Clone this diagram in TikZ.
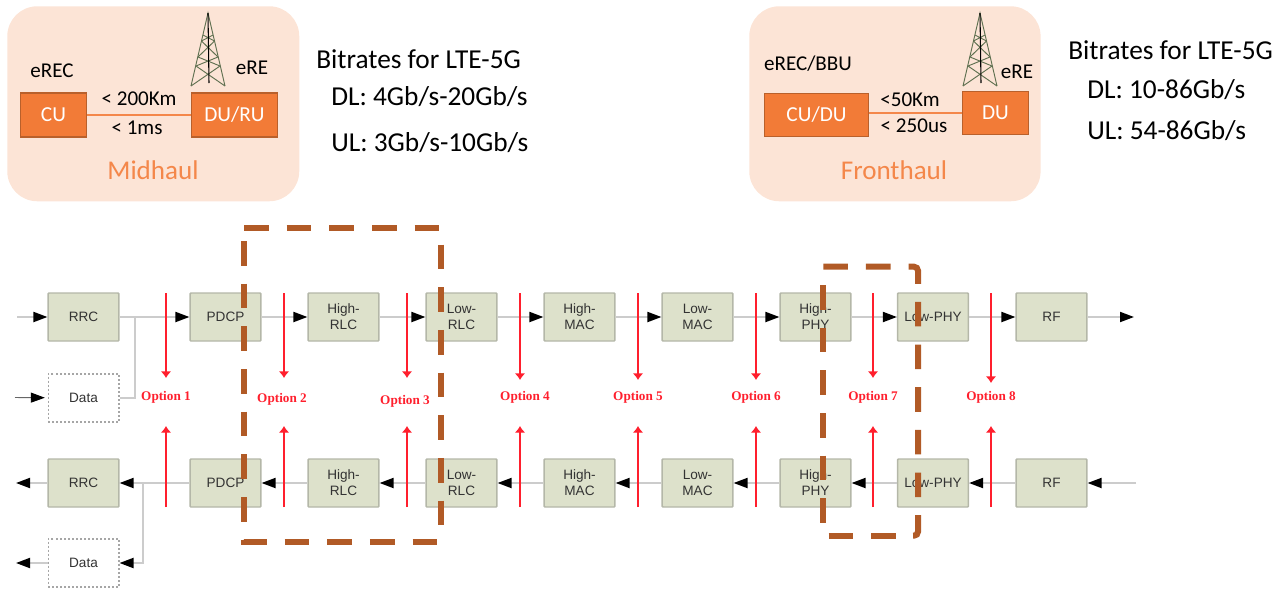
\documentclass[tikz,border=0pt]{standalone}
\usepackage{fontspec}
\setmainfont{Carlito}
\newfontfamily\arialf{Liberation Sans}
\newfontfamily\timesf{Liberation Serif}
\usetikzlibrary{arrows.meta}
\definecolor{panelc}{HTML}{FCE4D6}
\definecolor{orangec}{HTML}{F27B37}
\definecolor{orangee}{HTML}{B9602B}
\definecolor{midc}{HTML}{F4874A}
\definecolor{dashc}{HTML}{B15A26}
\definecolor{boxc}{HTML}{DDE1CB}
\definecolor{boxe}{HTML}{B4B7A8}
\definecolor{flowc}{HTML}{CCCCCC}
\definecolor{towerc}{HTML}{5F7050}
\definecolor{redc}{HTML}{FF1F2D}
\tikzset{
  panel/.style={fill=panelc,draw=none,rounded corners=22.5pt},
  obox/.style={fill=orangec,draw=orangee,line width=0.8pt,text=white,font=\fontsize{16}{18}\selectfont,inner sep=0pt},
  olink/.style={draw=midc,line width=1.2pt},
  ltext/.style={font=\fontsize{15.8}{18}\selectfont,text=black,inner sep=0pt},
  ptitle/.style={font=\fontsize{20.3}{22}\selectfont,text=midc,inner sep=0pt},
  rate/.style={font=\fontsize{20.5}{24}\selectfont,text=black,inner sep=0pt},
  gbox/.style={fill=boxc,draw=boxe,line width=1.1pt,rounded corners=0.6pt,minimum width=53pt,minimum height=36pt,inner sep=0pt,align=center,
     font=\arialf\fontsize{10.2}{12}\selectfont,text=black!80},
  dbox/.style={fill=white,draw=black!35,line width=1pt,dash pattern=on 1.5pt off 1.5pt,minimum width=53pt,minimum height=36pt,inner sep=0pt,
     font=\arialf\fontsize{10.2}{12}\selectfont,text=black!80},
  flow/.style={draw=flowc,line width=1.4pt},
  head/.style={-{Triangle[length=10.5pt,width=7.5pt,color=black]}},
  optl/.style={font=\timesf\bfseries\fontsize{9.9}{11}\selectfont,text=redc,inner sep=0pt},
  cut/.style={draw=redc,line width=1.2pt,-{Latex[length=5pt,width=8pt,color=redc]}},
  brown/.style={draw=dashc,line width=4.5pt,dash pattern=on 18.4pt off 13.6pt},
  tower/.pic={
    \draw[towerc,line width=0.7pt] (-17,73) -- (0,0) -- (17,73);
    \draw[towerc,line width=0.7pt]
      (-10,44) -- (6.5,28) (10,44) -- (-6.5,28)
      (-6.5,28) -- (5,22) (6.5,28) -- (-5,22)
      (-10,44) -- (12,53) (10,44) -- (-12,53)
      (-12,53) -- (17,73) (12,53) -- (-17,73);
    \draw[black,line width=0.8pt] (0,0) -- (1,70);
  }
}
\begin{document}
\begin{tikzpicture}[x=0.75pt,y=-0.75pt]
\useasboundingbox (0,0) rectangle (1282,597);
% Midhaul
\node[panel,minimum width=219pt,minimum height=146.25pt,anchor=north west] (midp) at (7,6) {};
\pic at (208,13) {tower};
\node[obox,minimum width=50pt,minimum height=33pt] (cu) at (53.5,115) {CU};
\node[obox,minimum width=65pt,minimum height=33pt] (duru) at (234.5,115) {DU/RU};
\draw[olink] (cu) -- (duru);
\node[ltext] (erecm) at (52,71) {eREC};
\node[ltext] (erem) at (252,68) {eRE};
\node[ltext] (km200) at (139,99) {< 200Km};
\node[ltext] (ms1) at (137,128) {< 1ms};
\node[ptitle] (midt) at (153,170) {Midhaul};
\node[rate,anchor=west] (r1) at (316,59) {Bitrates for LTE-5G};
\node[rate,anchor=west] (r2) at (331,97) {DL: 4Gb/s-20Gb/s};
\node[rate,anchor=west] (r3) at (331,143) {UL: 3Gb/s-10Gb/s};
% Fronthaul
\node[panel,minimum width=218.5pt,minimum height=146.25pt,anchor=north west] (frop) at (749,6) {};
\pic at (980,13) {tower};
\node[obox,minimum width=78.5pt,minimum height=32pt] (cudu) at (816.5,115) {CU/DU};
\node[obox,minimum width=50pt,minimum height=32pt] (du) at (995.5,113) {DU};
\draw[olink] (cudu.east |- du) -- (du);
\node[ltext] (erecf) at (808,64) {eREC/BBU};
\node[ltext] (eref) at (1017,72) {eRE};
\node[ltext] (km50) at (910,100) {<50Km};
\node[ltext] (us250) at (914,126) {< 250us};
\node[ptitle] (frot) at (894,170) {Fronthaul};
\node[rate,anchor=west] (s1) at (1068,50) {Bitrates for LTE-5G};
\node[rate,anchor=west] (s2) at (1087,90) {DL: 10-86Gb/s};
\node[rate,anchor=west] (s3) at (1087,131) {UL: 54-86Gb/s};
% free ends
\coordinate (inT) at (17,317);
\coordinate (outT) at (1134,317);
\coordinate (inD) at (15,397.5);
\coordinate (outB) at (16,483);
\coordinate (inB) at (1136,483);
\coordinate (outD) at (16,563);
\coordinate (joinT) at (135,317);
\coordinate (joinB) at (143,483);
% boxes
\foreach \n/\x/\t in {rrc/83.5/RRC,pdcp/225.5/PDCP,hrlc/343.5/{High-\\RLC},lrlc/461.5/{Low-\\RLC},hmac/579.5/{High-\\MAC},lmac/697.5/{Low-\\MAC},hphy/815.5/{High-\\PHY},lphy/933/Low-PHY,rf/1051.5/RF}{
  \node[gbox] (\n T) at (\x,317) {\t};
  \node[gbox] (\n B) at (\x,483) {\t};
}
\node[dbox] (dataT) at (83.5,398) {Data};
\node[dbox] (dataB) at (83.5,563) {Data};
% flows top
\draw[flow,head] (inT) -- (rrcT);
\draw[flow,head] (rrcT) -- (pdcpT);
\draw[flow,head] (pdcpT) -- (hrlcT);
\draw[flow,head] (hrlcT) -- (lrlcT);
\draw[flow,head] (lrlcT) -- (hmacT);
\draw[flow,head] (hmacT) -- (lmacT);
\draw[flow,head] (lmacT) -- (hphyT);
\draw[flow,head] (hphyT) -- (lphyT);
\draw[flow,head] (lphyT) -- (rfT);
\draw[flow,head] (rfT) -- (outT);
\draw[flow] (dataT.east) -| (joinT);
\draw[flow,draw=black!60,line width=0.7pt,-{Triangle[length=10.5pt,width=7.5pt,color=black]},shorten >=2pt] (inD) -- (dataT);
% flows bottom
\draw[flow,head] (inB) -- (rfB);
\draw[flow,head] (rfB) -- (lphyB);
\draw[flow,head] (lphyB) -- (hphyB);
\draw[flow,head] (hphyB) -- (lmacB);
\draw[flow,head] (lmacB) -- (hmacB);
\draw[flow,head] (hmacB) -- (lrlcB);
\draw[flow,head] (lrlcB) -- (hrlcB);
\draw[flow,head] (hrlcB) -- (pdcpB);
\draw[flow,head] (pdcpB) -- (rrcB);
\draw[flow,head] (rrcB) -- (outB);
\draw[flow,head] (joinB) |- (dataB.east);
\draw[flow,head] (dataB) -- (outD);
% options
\foreach \n/\x/\lx/\ly/\tipy/\o in {a/166/166/397/378/1,b/284/282/399/378/2,c/407/405/401/378/3,d/520/525/397/380/4,e/638/638/397/380/5,f/756/756/397/380/6,g/873/873/397/378/7,h/991/991/397/383/8}{
  \coordinate (\n s1) at (\x,293);
  \coordinate (\n e1) at (\x,\tipy);
  \coordinate (\n s2) at (\x,507);
  \coordinate (\n e2) at (\x,426);
  \draw[cut] (\n s1) -- (\n e1);
  \draw[cut] (\n s2) -- (\n e2);
  \node[optl] (opt\n) at (\lx,\ly) {Option \o};
}
% split outlines
\coordinate (c1s) at (244,241);
\coordinate (c1a) at (244,541.7);
\coordinate (c1b) at (244,228.3);
\coordinate (c1c) at (441,228.3);
\coordinate (c1d) at (441,541.7);
\coordinate (c1e) at (441,527);
\draw[brown] (c1s) -- (c1a) -- (c1d);
\draw[brown] (c1b) -- (c1c) -- (c1e);
\coordinate (c2s) at (823.3,285);
\coordinate (c2a) at (823.3,535.7);
\coordinate (c2b) at (823.3,266.7);
\coordinate (c2c) at (918,266.7);
\coordinate (c2d) at (918,535.7);
\coordinate (c2e) at (900,535.7);
\coordinate (c2f) at (913,535.7);
\draw[brown] (c2s) -- (c2a) -- (c2e);
\draw[brown,rounded corners=3pt] (c2b) -- (c2c) -- (c2d) -- (c2f);
\end{tikzpicture}
\end{document}
